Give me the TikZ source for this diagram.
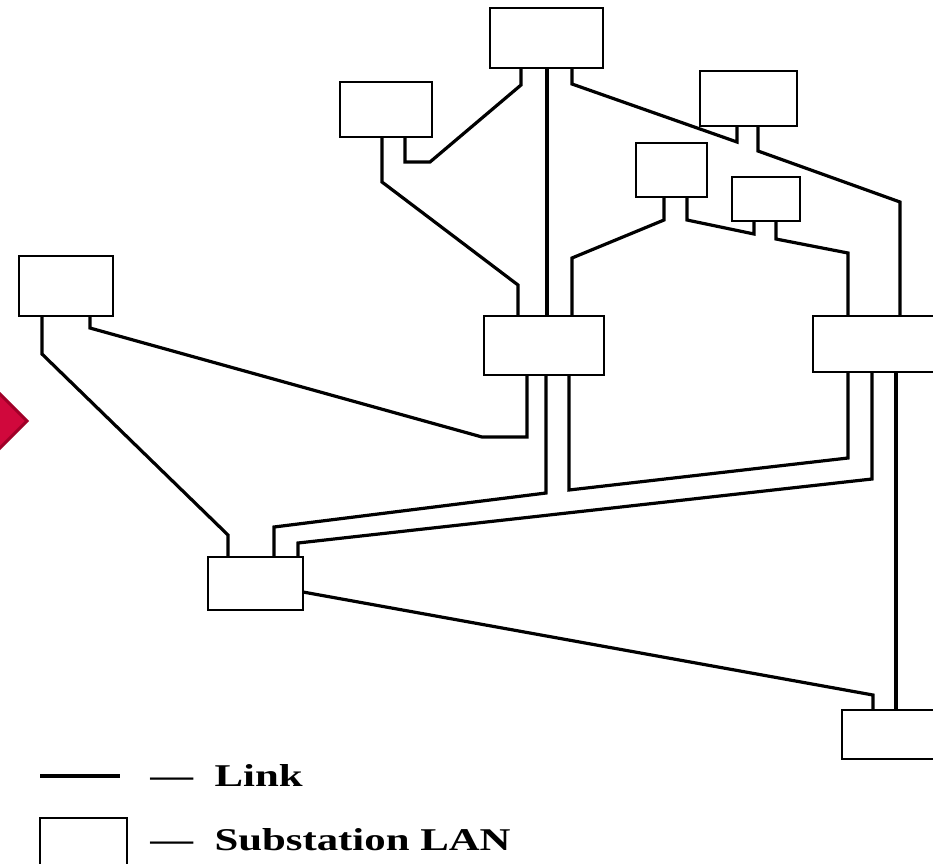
\documentclass[tikz,border=0pt]{standalone}
\usepackage{fontspec}
\setmainfont{Liberation Serif}

\definecolor{markred}{RGB}{208,8,60}
\definecolor{markdark}{RGB}{160,0,40}

\tikzset{every picture/.style={line width=0.75pt}}
\tikzset{
	lan/.style={draw, line width=1.6pt, fill=white, anchor=north west, inner sep=0pt, outer sep=0pt},
	linkline/.style={line width=3.2pt, line join=miter},
	legtext/.style={anchor=base west, inner sep=0pt, font=\fontsize{31.7}{36}\selectfont\bfseries}
}

\begin{document}
\begin{tikzpicture}[x=1pt,y=1pt,yscale=-1,xscale=1]
			\clip (0,0) rectangle (933,863);
			\fill[white] (0,0) rectangle (933,863);

			%Shape: red marker at left edge
			\filldraw[fill=markred, draw=markdark, line width=3pt] (27,421) -- (-5,389) -- (-37,421) -- (-5,453) -- cycle;

			%Substation LANs
			\node[lan, minimum width=113, minimum height=60] (s1) at (490,8) {};
			\node[lan, minimum width=92, minimum height=55] (s2) at (340,82) {};
			\node[lan, minimum width=97, minimum height=55] (s3) at (700,71) {};
			\node[lan, minimum width=71, minimum height=54] (s4) at (636,143) {};
			\node[lan, minimum width=68, minimum height=44] (s5) at (732,177) {};
			\node[lan, minimum width=130, minimum height=56] (s6) at (813,316) {};
			\node[lan, minimum width=120, minimum height=59] (s7) at (484,316) {};
			\node[lan, minimum width=94, minimum height=60] (s8) at (19,256) {};
			\node[lan, minimum width=95, minimum height=53] (s9) at (208,557) {};
			\node[lan, minimum width=100, minimum height=49] (s10) at (842,710) {};

			%Links
			\draw[linkline] ([xshift=31]s1.south west) -- ++(0,17) -- (430,162) -| ([xshift=65]s2.south west);
			\draw[linkline] ([xshift=42]s2.south west) -- ++(0,45) -- (518,285) -- ([xshift=34]s7.north west);
			\draw[linkline] ([xshift=57]s1.south west) -- ([xshift=63]s7.north west);
			\draw[linkline] ([xshift=82]s1.south west) -- ++(0,16) -- (737,142) -- ([xshift=37]s3.south west);
			\draw[linkline] ([xshift=58]s3.south west) -- ++(0,25) -- (900,202) -- ([xshift=87]s6.north west);
			\draw[linkline] ([xshift=28]s4.south west) -- ++(0,23) -- (572,258) -- ([xshift=88]s7.north west);
			\draw[linkline] ([xshift=51]s4.south west) -- ++(0,23) -- (754,234) -- ([xshift=22]s5.south west);
			\draw[linkline] ([xshift=44]s5.south west) -- ++(0,18) -- (848,253) -- ([xshift=35]s6.north west);
			\draw[linkline] ([xshift=71]s8.south west) -- ++(0,12) -- (482,437) -| ([xshift=43]s7.south west);
			\draw[linkline] ([xshift=62]s7.south west) -- ++(0,118) -- (274,527) -- ([xshift=66]s9.north west);
			\draw[linkline] ([xshift=85]s7.south west) -- ++(0,115) -- (848,458) -- ([xshift=35]s6.south west);
			\draw[linkline] ([xshift=59]s6.south west) -- ++(0,107) -- (298,543) -- ([xshift=90]s9.north west);
			\draw[linkline] ([xshift=83]s6.south west) -- ([xshift=54]s10.north west);
			\draw[linkline] ([xshift=23]s8.south west) -- ++(0,38) -- (228,535) -- ([xshift=20]s9.north west);
			\draw[linkline] (s9.south east) ++(0,-18) -- (873,695) -- ([xshift=31]s10.north west);

			%Legend
			\coordinate (legA) at (40,776);
			\coordinate (legB) at (120,776);
			\draw[linkline] (legA) -- (legB);
			\node[lan, minimum width=87, minimum height=60] (legbox) at (40,818) {};
			% Text Node
			\node[legtext] (linktext) at (150,786) {\scalebox{1.35}[1]{—\enspace Link}};
			% Text Node
			\node[legtext] (lantext) at (150,850) {\scalebox{1.35}[1]{—\enspace Substation LAN}};

\end{tikzpicture}
\end{document}
